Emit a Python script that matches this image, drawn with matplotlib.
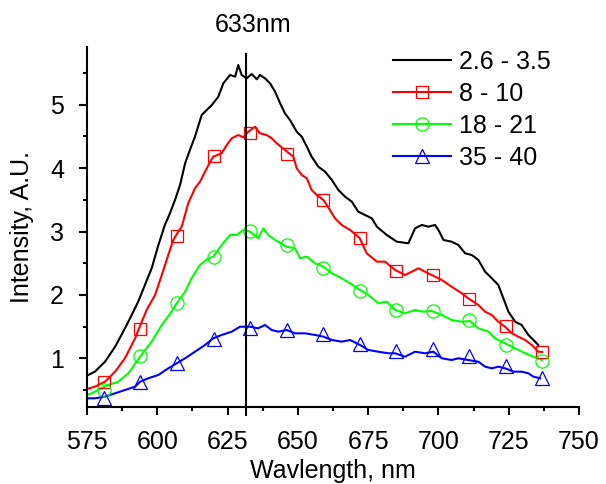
import matplotlib
matplotlib.use("Agg")
import matplotlib.pyplot as plt
from matplotlib.lines import Line2D

plt.rcParams['font.family'] = ['Liberation Sans', 'DejaVu Sans']

# ---- data ----
bk_x = [575.0, 577.8, 581.4, 585.0, 588.5, 590.9, 593.2, 595.6, 598.0, 600.4, 602.7, 604.5, 606.3, 608.1,
        609.9, 611.6, 613.4, 615.8, 617.6, 619.4, 621.7, 623.5, 625.9, 627.7, 628.8, 630.0, 631.8, 633.6,
        635.4, 636.5, 638.3, 640.1, 641.9, 643.7, 645.4, 647.2, 649.6, 651.4, 653.2, 654.9, 657.3, 659.7,
        662.1, 664.4, 666.8, 669.2, 671.5, 673.9, 676.3, 678.1, 681.6, 685.2, 689.3, 691.7, 694.1, 696.4,
        698.8, 700.0, 701.8, 704.7, 707.1, 709.5, 711.9, 714.2, 716.6, 719.0, 721.3, 723.1, 724.9, 727.3,
        729.6, 732.0, 733.8, 735.5]
bk_y = [0.726, 0.789, 0.946, 1.183, 1.473, 1.683, 1.893, 2.156, 2.420, 2.787, 3.103, 3.287, 3.497, 3.734,
        4.076, 4.286, 4.495, 4.838, 4.916, 4.995, 5.126, 5.338, 5.469, 5.442, 5.626, 5.469, 5.416, 5.484,
        5.401, 5.469, 5.416, 5.338, 5.205, 5.022, 4.864, 4.759, 4.574, 4.495, 4.338, 4.180, 4.022, 3.943,
        3.812, 3.655, 3.549, 3.470, 3.312, 3.260, 3.208, 3.076, 2.945, 2.839, 2.814, 3.050, 3.103, 3.076,
        3.103, 3.024, 2.866, 2.839, 2.787, 2.656, 2.629, 2.551, 2.366, 2.262, 2.156, 1.946, 1.735, 1.577,
        1.525, 1.368, 1.289, 1.210]

rd_x = [575.0, 577.8, 581.4, 585.0, 588.5, 592.1, 594.5, 596.2, 599.2, 601.6, 603.9, 605.7, 607.5, 608.7,
        611.0, 613.4, 615.2, 618.2, 619.9, 622.9, 624.7, 626.5, 628.8, 630.6, 632.4, 634.8, 636.5, 638.9,
        640.7, 642.5, 645.4, 648.4, 649.6, 651.4, 653.2, 654.9, 656.7, 659.1, 661.4, 663.2, 665.6, 668.6,
        671.9, 674.5, 678.1, 681.0, 684.6, 688.1, 690.5, 692.9, 695.2, 697.6, 701.2, 704.7, 708.3, 710.6,
        714.2, 716.6, 719.0, 721.3, 723.7, 726.1, 728.4, 730.8, 733.2, 735.5, 737.0]
rd_y = [0.516, 0.552, 0.631, 0.789, 1.000, 1.315, 1.577, 1.762, 1.998, 2.314, 2.629, 2.866, 3.000, 3.076,
        3.445, 3.681, 3.785, 4.049, 4.180, 4.233, 4.364, 4.470, 4.522, 4.486, 4.574, 4.653, 4.549, 4.522,
        4.470, 4.391, 4.286, 4.180, 3.997, 3.891, 3.839, 3.655, 3.576, 3.497, 3.339, 3.208, 3.103, 3.024,
        2.902, 2.656, 2.524, 2.524, 2.393, 2.314, 2.366, 2.420, 2.366, 2.314, 2.235, 2.129, 2.025, 1.946,
        1.841, 1.735, 1.683, 1.577, 1.498, 1.394, 1.341, 1.289, 1.210, 1.104, 1.100]

gr_x = [575.0, 576.7, 579.0, 582.6, 586.1, 589.7, 593.9, 598.0, 601.6, 605.1, 606.9, 609.9, 612.2, 615.2,
        618.2, 619.9, 622.9, 625.9, 628.3, 630.6, 633.0, 635.9, 637.7, 639.5, 641.9, 646.0, 649.0, 650.8,
        653.2, 656.1, 659.1, 662.1, 665.6, 668.6, 672.1, 675.1, 678.6, 681.6, 684.6, 688.1, 691.7, 694.6,
        697.6, 701.2, 704.7, 708.3, 711.2, 714.2, 717.8, 720.1, 723.7, 727.3, 730.8, 733.8, 736.8]
gr_y = [0.421, 0.448, 0.500, 0.579, 0.631, 0.763, 1.025, 1.262, 1.525, 1.735, 1.868, 2.050, 2.262, 2.472,
        2.577, 2.603, 2.787, 2.945, 2.945, 3.024, 2.997, 2.893, 3.050, 2.945, 2.866, 2.760, 2.735, 2.577,
        2.603, 2.498, 2.445, 2.341, 2.262, 2.183, 2.077, 1.998, 1.868, 1.893, 1.762, 1.710, 1.762, 1.735,
        1.746, 1.683, 1.604, 1.577, 1.588, 1.473, 1.420, 1.315, 1.237, 1.158, 1.079, 1.025, 0.973]

bl_x = [575.0, 577.8, 581.4, 585.0, 588.5, 592.1, 593.9, 596.8, 600.4, 603.9, 606.9, 609.9, 613.4, 617.0,
        619.9, 622.9, 626.5, 629.4, 631.2, 633.0, 635.9, 638.3, 640.7, 643.1, 646.0, 649.0, 652.6, 656.1,
        659.1, 662.1, 665.6, 668.6, 672.1, 675.1, 678.6, 682.2, 684.6, 688.1, 691.7, 695.2, 698.2, 701.2,
        704.7, 707.1, 710.6, 714.2, 716.6, 719.0, 721.3, 723.7, 726.7, 729.6, 732.0, 733.8, 736.2]
bl_y = [0.369, 0.369, 0.394, 0.448, 0.500, 0.552, 0.631, 0.685, 0.737, 0.842, 0.921, 1.000, 1.104, 1.210,
        1.315, 1.368, 1.420, 1.498, 1.498, 1.498, 1.473, 1.525, 1.446, 1.420, 1.446, 1.394, 1.394, 1.368,
        1.341, 1.289, 1.262, 1.289, 1.210, 1.131, 1.104, 1.079, 1.079, 1.025, 1.104, 1.079, 1.104, 1.000,
        0.973, 1.000, 0.973, 0.946, 0.868, 0.842, 0.868, 0.842, 0.789, 0.789, 0.763, 0.710, 0.685]

# marker positions and values
mk_x = [581, 594, 607, 620, 633, 646, 659, 672, 685, 698, 711, 724, 737]
rd_mk = [0.632, 1.46, 2.93, 4.19, 4.55, 4.22, 3.50, 2.90, 2.38, 2.31, 1.94, 1.51, 1.10]
gr_mk = [0.50, 1.03, 1.87, 2.60, 3.01, 2.78, 2.43, 2.06, 1.76, 1.74, 1.60, 1.21, 0.95]
bl_mk = [0.37, 0.62, 0.92, 1.30, 1.47, 1.45, 1.38, 1.22, 1.11, 1.14, 1.04, 0.88, 0.69]

labels = ['2.6 - 3.5', '8 - 10', '18 - 21', '35 - 40']
line_nm = 631.4
line_label = '633nm'

# ---- figure ----
W, H = 606, 484
fig = plt.figure(figsize=(W / 100, H / 100), dpi=100)
ax = fig.add_axes([87 / W, 1 - 407.3 / H, (579 - 87) / W, (407.3 - 46.7) / H])

FS = 18
lw = 1.5
RED, GREEN, BLUE = '#ff0000', '#00ff00', '#0000ff'
ax.plot(bk_x, bk_y, color='black', lw=lw)
ax.plot(rd_x, rd_y, color=RED, lw=lw)
ax.plot(gr_x, gr_y, color=GREEN, lw=lw)
ax.plot(bl_x, bl_y, color=BLUE, lw=lw)

mew = 0.9
ax.plot(mk_x, rd_mk, ls='none', marker='s', ms=9, mfc='none', mec=RED, mew=mew)
ax.plot(mk_x, gr_mk, ls='none', marker='o', ms=9.5, mfc='none', mec=GREEN, mew=mew)
ax.plot(mk_x, bl_mk, ls='none', marker='^', ms=10, mfc='none', mec=BLUE, mew=mew)

ax.set_xlim(575, 750)
ax.set_ylim(0.227, 5.915)
ax.axvline(line_nm, ymin=-0.021, ymax=0.98, color='black', lw=1.5, clip_on=False)
ax.text(634.0, 5.915 + 0.34, line_label, ha='center', va='center', fontsize=FS)

ax.set_xticks([575, 600, 625, 650, 675, 700, 725, 750])
ax.set_xticks([587.5, 612.5, 637.5, 662.5, 687.5, 712.5, 737.5], minor=True)
ax.set_yticks([1, 2, 3, 4, 5])
ax.set_yticks([0.5, 1.5, 2.5, 3.5, 4.5, 5.5], minor=True)

for s in ['top', 'right']:
    ax.spines[s].set_visible(False)
for s in ['left', 'bottom']:
    ax.spines[s].set_linewidth(1.5)
ax.tick_params(which='major', direction='out', length=5.5, width=1.5, labelsize=FS)
ax.tick_params(axis='x', which='major', pad=11)
ax.tick_params(axis='y', which='major', pad=11)
ax.tick_params(which='minor', direction='out', length=3, width=1.5)

ax.set_xlabel('Wavlength, nm', fontsize=FS)
ax.set_ylabel('Intensity, A.U.', fontsize=FS)
ax.xaxis.set_label_coords(0.499, -0.143)
ax.yaxis.set_label_coords(-0.108, 0.5)

handles = [
    Line2D([], [], color='black', lw=lw),
    Line2D([], [], color=RED, lw=lw, marker='s', ms=9, mfc='none', mec=RED, mew=mew),
    Line2D([], [], color=GREEN, lw=lw, marker='o', ms=9.5, mfc='none', mec=GREEN, mew=mew),
    Line2D([], [], color=BLUE, lw=lw, marker='^', ms=10, mfc='none', mec=BLUE, mew=mew),
]
fig.legend(handles, labels, loc='upper left', bbox_to_anchor=(393 / W, 1 - 50 / H),
           bbox_transform=fig.transFigure, frameon=False, fontsize=FS,
           borderpad=0, borderaxespad=0, handlelength=2.32, handletextpad=0.32,
           labelspacing=0.32)

fig.savefig('out.png', dpi=100)
